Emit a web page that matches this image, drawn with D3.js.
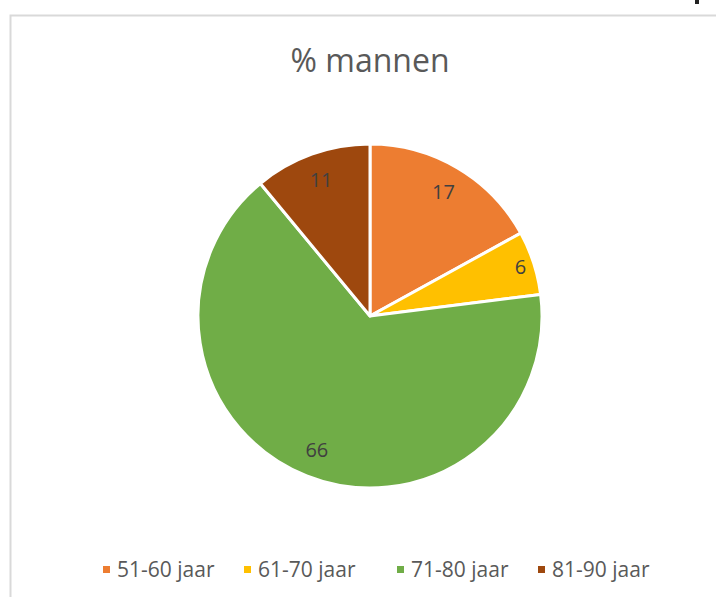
<!DOCTYPE html>
<html>
<head>
<meta charset="utf-8">
<script src="https://cdn.jsdelivr.net/npm/d3@7"></script>
<style>
  body { margin: 0; background: #fff; }
  svg { display: block; font-family: "Open Sans", "Noto Sans", sans-serif; }
</style>
</head>
<body>
<script>
const title = "% mannen";
const categories = ["51-60 jaar", "61-70 jaar", "71-80 jaar", "81-90 jaar"];
const values = [17, 6, 66, 11];
const colors = ["#ED7D31", "#FFC000", "#70AD47", "#9E480E"];

const width = 716;
const height = 597;
const cx = 370;
const cy = 316;
const radius = 172;

const svg = d3
  .select("body")
  .append("svg")
  .attr("width", width)
  .attr("height", height);

// chart frame (cropped at right and bottom)
svg
  .append("rect")
  .attr("x", 10.5)
  .attr("y", 15.5)
  .attr("width", width + 10)
  .attr("height", height + 10)
  .attr("fill", "#fff")
  .attr("stroke", "#d9d9d9")
  .attr("stroke-width", 2);

// little leftover mark at the top right
svg
  .append("rect")
  .attr("x", 695)
  .attr("y", 0)
  .attr("width", 4)
  .attr("height", 4)
  .attr("fill", "#222");

svg
  .append("text")
  .attr("x", cx)
  .attr("y", 72)
  .attr("text-anchor", "middle")
  .attr("fill", "#595959")
  .style("font-size", "32px")
  .text(title);

// Pie
const pie = d3.pie().sort(null).value((d) => d);
const arcs = pie(values);

const arc = d3.arc().innerRadius(0).outerRadius(radius);

const g = svg.append("g").attr("transform", `translate(${cx}, ${cy})`);

g.selectAll("path")
  .data(arcs)
  .enter()
  .append("path")
  .attr("d", arc)
  .attr("fill", (d, i) => colors[i])
  .attr("stroke", "#fff")
  .attr("stroke-width", 3)
  .attr("stroke-linejoin", "round");

// data labels, small slices pushed outward a bit
const labelArc = (d) => {
  const r = d.data < 10 ? radius * 0.92 : radius * 0.84;
  return d3.arc().innerRadius(r).outerRadius(r).centroid(d);
};

g.selectAll(".label")
  .data(arcs)
  .enter()
  .append("text")
  .attr("class", "label")
  .attr("x", (d) => labelArc(d)[0])
  .attr("y", (d) => labelArc(d)[1])
  .attr("dy", "0.35em")
  .attr("text-anchor", "middle")
  .attr("fill", "#404040")
  .style("font-size", "20px")
  .text((d) => d.data);

// Legend
const legendX = [103, 244, 397, 538];
const legend = svg
  .selectAll(".legend")
  .data(categories)
  .enter()
  .append("g")
  .attr("class", "legend")
  .attr("transform", (d, i) => `translate(${legendX[i]}, 570)`);

legend
  .append("rect")
  .attr("x", 0)
  .attr("y", -4)
  .attr("width", 7)
  .attr("height", 7)
  .attr("fill", (d, i) => colors[i]);

legend
  .append("text")
  .attr("x", 14)
  .attr("y", 0)
  .attr("dy", "0.35em")
  .attr("fill", "#595959")
  .style("font-size", "21px")
  .text((d) => d);
</script>
</body>
</html>
